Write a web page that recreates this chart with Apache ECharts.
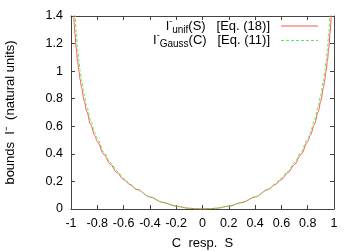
<!DOCTYPE html>
<html>
<head>
<meta charset="utf-8">
<script src="https://cdn.jsdelivr.net/npm/echarts@6/dist/echarts.min.js"></script>
<style>
html,body{margin:0;padding:0;background:#fff;}
#c{width:358px;height:251px;}
</style>
</head>
<body>
<div id="c"></div>
<script>
// Data
const xValues = [-0.99,-0.985,-0.98,-0.975,-0.97,-0.96,-0.95,-0.94,-0.93,-0.92,-0.9,-0.88,-0.85,-0.82,-0.8,-0.75,-0.7,-0.65,-0.6,-0.55,-0.5,-0.4,-0.3,-0.2,-0.1,0,
                 0.1,0.2,0.3,0.4,0.5,0.55,0.6,0.65,0.7,0.75,0.8,0.82,0.85,0.88,0.9,0.92,0.93,0.94,0.95,0.96,0.97,0.975,0.98,0.985,0.99];
const unifValues = [1.614,1.504,1.414,1.339,1.273,1.164,1.075,1.001,0.937,0.880,0.785,0.707,0.611,0.534,0.489,0.397,0.323,0.2635,0.214,0.176,0.142,0.0872,0.0472,0.0204,0.005,0,
                    0.005,0.0204,0.0472,0.0872,0.142,0.176,0.214,0.2635,0.323,0.397,0.489,0.534,0.611,0.707,0.785,0.880,0.937,1.001,1.075,1.164,1.273,1.339,1.414,1.504,1.614];
const gaussValues = [1.958,1.757,1.614,1.504,1.414,1.273,1.164,1.075,1.001,0.937,0.830,0.745,0.641,0.558,0.511,0.413,0.337,0.274,0.2231,0.180,0.1438,0.0872,0.0472,0.0204,0.005,0,
                     0.005,0.0204,0.0472,0.0872,0.1438,0.180,0.2231,0.274,0.337,0.413,0.511,0.558,0.641,0.745,0.830,0.937,1.001,1.075,1.164,1.273,1.414,1.504,1.614,1.757,1.958];
const xAxisTitle = 'C  resp.  S';
const yAxisTitle = 'bounds  I\u207B  (natural units)';
const legendRows = [
  {main: 'I', sub: 'unif', rest: '(S)   [Eq. (18)]'},
  {main: 'I', sub: 'Gauss', rest: '(C)   [Eq. (11)]'}
];

const FONT = 'Liberation Sans, Arial, Helvetica, sans-serif';
const AXIS_COLOR = '#444';
const RED = '#ff5555';
const GREEN = '#55ee55';

const chart = echarts.init(document.getElementById('c'), null, {renderer: 'canvas'});
const grid = {left: 71, right: 24, top: 16, bottom: 42, containLabel: false, outerBoundsMode: 'none'};

function fmt(v){ return String(parseFloat(Number(v).toFixed(1))); }

const tickStyle = {show: true, inside: true, length: 4, lineStyle: {color: AXIS_COLOR, width: 1}};
const lineStyleAxis = {show: true, onZero: false, lineStyle: {color: AXIS_COLOR, width: 1}};

const option = {
  animation: false,
  backgroundColor: '#fff',
  grid: grid,
  xAxis: [{
    type: 'value', min: -1, max: 1, interval: 0.2, position: 'bottom',
    axisLine: lineStyleAxis,
    axisTick: tickStyle,
    splitLine: {show: false},
    axisLabel: {color: '#000', fontSize: 12.5, fontFamily: FONT, margin: 8, formatter: fmt, showMinLabel: true, showMaxLabel: true},
    name: xAxisTitle, nameLocation: 'middle', nameGap: 28,
    nameTextStyle: {color: '#000', fontSize: 13, fontFamily: FONT}
  }, {
    type: 'value', min: -1, max: 1, interval: 0.2, position: 'top',
    axisLine: lineStyleAxis,
    axisTick: tickStyle, axisLabel: {show: false}, splitLine: {show: false}
  }],
  yAxis: [{
    type: 'value', min: 0, max: 1.4, interval: 0.2, position: 'left',
    axisLine: lineStyleAxis,
    axisTick: tickStyle,
    splitLine: {show: false},
    axisLabel: {color: '#000', fontSize: 12.5, fontFamily: FONT, margin: 8, formatter: fmt},
    name: yAxisTitle, nameLocation: 'middle', nameGap: 54, nameRotate: 90,
    nameTextStyle: {color: '#000', fontSize: 13, fontFamily: FONT}
  }, {
    type: 'value', min: 0, max: 1.4, interval: 0.2, position: 'right',
    axisLine: lineStyleAxis,
    axisTick: tickStyle, axisLabel: {show: false}, splitLine: {show: false}
  }],
  series: [{
    name: 'unif', type: 'line', xAxisIndex: 0, yAxisIndex: 0,
    data: xValues.map((x, i) => [x, unifValues[i]]),
    showSymbol: false, smooth: 0.3, smoothMonotone: 'x', clip: true,
    lineStyle: {color: RED, width: 1}
  }, {
    name: 'Gauss', type: 'line', xAxisIndex: 0, yAxisIndex: 0,
    data: xValues.map((x, i) => [x, gaussValues[i]]),
    showSymbol: false, smooth: 0.3, smoothMonotone: 'x', clip: true,
    lineStyle: {color: GREEN, width: 1, type: [3, 2]}
  }],
  graphic: legendRows.map((r, i) => ({
    type: 'group',
    children: [{
      type: 'text',
      style: {
        x: 270, y: 26 + i * 14.5, align: 'right', verticalAlign: 'middle',
        text: '{m|' + r.main + '}{sup|-}{s|' + r.sub + '}{m|' + r.rest + '}',
        rich: {
          m: {fontSize: 13, fontFamily: FONT, fill: '#000', lineHeight: 18},
          sup: {fontSize: 9, fontFamily: FONT, fill: '#000', verticalAlign: 'top', lineHeight: 18},
          s: {fontSize: 10, fontFamily: FONT, fill: '#000', verticalAlign: 'bottom', lineHeight: 18}
        }
      }
    }, {
      type: 'line',
      shape: {x1: 281, y1: 26 + i * 14.5, x2: 318, y2: 26 + i * 14.5},
      style: {stroke: i === 0 ? RED : GREEN, lineWidth: 1, lineDash: i === 0 ? null : [3, 2]}
    }]
  }))
};
chart.setOption(option);
</script>
</body>
</html>
